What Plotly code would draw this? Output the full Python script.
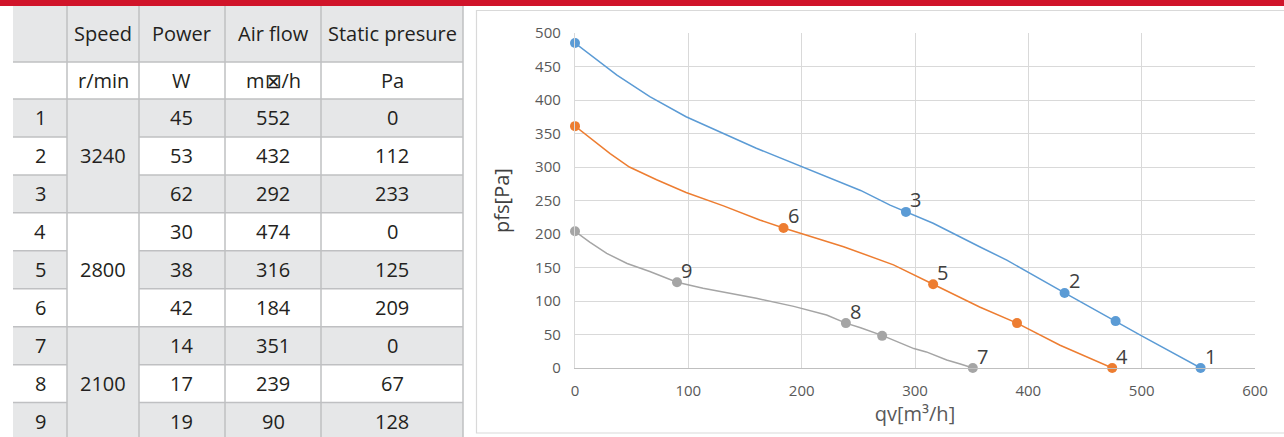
import plotly.graph_objects as go

W, H = 1284, 437

# ---------------- table data ----------------
row_no = [1, 2, 3, 4, 5, 6, 7, 8, 9]
speeds = [3240, 2800, 2100]
power = [45, 53, 62, 30, 38, 42, 14, 17, 19]
air_flow = [552, 432, 292, 474, 316, 184, 351, 239, 90]
static_p = [0, 112, 233, 0, 125, 209, 0, 67, 128]
headers = ["", "Speed", "Power", "Air flow", "Static presure"]
units = ["", "r/min", "W", "m\u22a0/h", "Pa"]

# ---------------- curve data ----------------
qv_3240 = [0, 37, 66, 98, 160, 201, 228, 252, 278, 292, 316, 357, 381, 432, 454, 477, 500, 552]
pfs_3240 = [485, 437, 405, 375, 328, 300, 281, 265, 243, 233, 216, 181, 161, 112, 91, 70, 48, 0]

qv_2800 = [0, 31, 48, 72, 98, 131, 163, 184, 237, 281, 316, 357, 390, 428, 474]
pfs_2800 = [361, 320, 300, 281, 262, 242, 221, 209, 181, 154, 125, 91, 67, 34, 0]

qv_2100 = [0, 13, 28, 46, 66, 90, 113, 160, 193, 222, 239, 252, 272, 299, 310, 328, 340, 351]
pfs_2100 = [204, 188, 171, 156, 144, 128, 119, 104, 92, 79, 67, 60, 48, 29, 24, 12, 6, 0]

# extra (unlabelled) markers on each curve
extra_qv = {3240: [0, 477], 2800: [0, 390], 2100: [0, 271]}
extra_pfs = {3240: [485, 70], 2800: [361, 67], 2100: [204, 48]}

colors = {3240: "#5b9bd5", 2800: "#ed7d31", 2100: "#a5a5a5"}
curves = {3240: (qv_3240, pfs_3240), 2800: (qv_2800, pfs_2800), 2100: (qv_2100, pfs_2100)}

FONT = "Open Sans"


def fx(x):
    return x / W


def fy(y):
    return 1 - y / H


fig = go.Figure()
annotations = []

for gi, sp in enumerate(speeds):
    qv, pf = curves[sp]
    fig.add_trace(go.Scatter(
        x=qv, y=pf, mode="lines", line=dict(color=colors[sp], width=1.5),
        hoverinfo="skip", showlegend=False))
    idx = list(range(gi * 3, gi * 3 + 3))
    mx = extra_qv[sp] + [air_flow[i] for i in idx]
    my = extra_pfs[sp] + [static_p[i] for i in idx]
    fig.add_trace(go.Scatter(
        x=mx, y=my, mode="markers",
        marker=dict(color=colors[sp], size=10), cliponaxis=False,
        name=f"{sp} r/min", showlegend=False))
    # point number labels
    for i in idx:
        annotations.append(dict(xref="x", yref="y", x=air_flow[i], y=static_p[i],
                                text=str(row_no[i]), showarrow=False,
                                xanchor="left", yanchor="middle", xshift=2, yshift=12,
                                font=dict(family=FONT, size=20, color="#404040")))

# ---------------- table drawn with shapes ----------------
col_edges = [13, 67, 139, 225, 321, 463]
y_head = (6, 62)
y_unit = (62, 99)
row_h = 37.95
row_top = [99 + k * row_h for k in range(9)]
GRAY = "#e6e7e8"
LINE = "#bfc0c2"
TXT = "#231f20"

shapes = []
# red top bar
shapes.append(dict(type="rect", xref="paper", yref="paper", x0=0, x1=1, y0=fy(6), y1=1,
                   fillcolor="#d0142a", line=dict(width=0), layer="below"))
# header fill
shapes.append(dict(type="rect", xref="paper", yref="paper", x0=fx(col_edges[0]), x1=fx(col_edges[-1]),
                   y0=fy(y_head[1]), y1=fy(y_head[0]), fillcolor=GRAY, line=dict(width=0), layer="below"))
# row fills (alternating, with merged speed column)
for k in range(9):
    if k % 2 == 0:
        for c in [0, 2, 3, 4]:
            shapes.append(dict(type="rect", xref="paper", yref="paper",
                               x0=fx(col_edges[c]), x1=fx(col_edges[c + 1]),
                               y0=fy(row_top[k] + row_h), y1=fy(row_top[k]),
                               fillcolor=GRAY, line=dict(width=0), layer="below"))
for gi in range(3):
    if gi % 2 == 0:
        shapes.append(dict(type="rect", xref="paper", yref="paper",
                           x0=fx(col_edges[1]), x1=fx(col_edges[2]),
                           y0=fy(row_top[gi * 3] + 3 * row_h), y1=fy(row_top[gi * 3]),
                           fillcolor=GRAY, line=dict(width=0), layer="below"))
# vertical lines
for xe in col_edges[1:]:
    shapes.append(dict(type="line", xref="paper", yref="paper", x0=fx(xe), x1=fx(xe),
                       y0=0, y1=fy(6), line=dict(color=LINE, width=1.5)))
# horizontal lines
for yy in [62, 99]:
    shapes.append(dict(type="line", xref="paper", yref="paper", x0=fx(col_edges[0]), x1=fx(col_edges[-1]),
                       y0=fy(yy), y1=fy(yy), line=dict(color=LINE, width=1.5)))
for k in range(1, 9):
    yy = row_top[k]
    if k % 3 == 0:
        segs = [(col_edges[0], col_edges[-1])]
    else:
        segs = [(col_edges[0], col_edges[1]), (col_edges[2], col_edges[-1])]
    for a, b in segs:
        shapes.append(dict(type="line", xref="paper", yref="paper", x0=fx(a), x1=fx(b),
                           y0=fy(yy), y1=fy(yy), line=dict(color=LINE, width=1.5)))

# chart frame
shapes.append(dict(type="rect", xref="paper", yref="paper", x0=fx(476.5), x1=fx(1290),
                   y0=fy(433), y1=fy(10.5), line=dict(color="#d9d9d9", width=1.2), layer="below"))


def cell_text(txt, c, yc):
    annotations.append(dict(xref="paper", yref="paper",
                            x=fx((col_edges[c] + col_edges[c + 1]) / 2), y=fy(yc),
                            text=txt, showarrow=False, xanchor="center", yanchor="middle",
                            font=dict(family=FONT, size=20, color=TXT)))


for c in range(5):
    cell_text(headers[c], c, (y_head[0] + y_head[1]) / 2)
    cell_text(units[c], c, (y_unit[0] + y_unit[1]) / 2)
for k in range(9):
    yc = row_top[k] + row_h / 2
    cell_text(str(row_no[k]), 0, yc)
    cell_text(str(power[k]), 2, yc)
    cell_text(str(air_flow[k]), 3, yc)
    cell_text(str(static_p[k]), 4, yc)
for gi, sp in enumerate(speeds):
    cell_text(str(sp), 1, row_top[gi * 3 + 1] + row_h / 2)

fig.update_layout(
    autosize=True,
    margin=dict(l=0, r=0, t=0, b=0, autoexpand=False),
    paper_bgcolor="white", plot_bgcolor="white",
    shapes=shapes, annotations=annotations,
    font=dict(family=FONT),
    xaxis=dict(domain=[fx(575), fx(1255)], range=[0, 600], dtick=100, tick0=0,
               showgrid=True, gridcolor="#d9d9d9", gridwidth=1.3,
               zeroline=False, showline=True, linecolor="#bfbfbf", linewidth=1.3,
               ticks="", ticklabelstandoff=9,
               tickfont=dict(family=FONT, size=15, color="#595959"),
               title=dict(text="qv[m\u00b3/h]", standoff=2,
                          font=dict(family=FONT, size=20, color="#595959"))),
    yaxis=dict(domain=[fy(368), fy(33)], range=[0, 500], dtick=50, tick0=0,
               showgrid=True, gridcolor="#d9d9d9", gridwidth=1.3,
               zeroline=False, showline=True, linecolor="#d9d9d9", linewidth=1.3,
               ticks="", ticklabelstandoff=10,
               tickfont=dict(family=FONT, size=15, color="#595959"),
               title=dict(text="pfs[Pa]", standoff=20,
                          font=dict(family=FONT, size=20, color="#404040"))),
)

post = (
    "var de=document.documentElement, b=document.body;"
    "de.style.margin='0';de.style.padding='0';de.style.overflow='hidden';"
    "b.style.margin='0';b.style.padding='0';b.style.overflow='hidden';"
    "var gd=document.getElementById('{plot_id}');"
    "gd.style.width='100vw';gd.style.height='100vh';"
    "Plotly.Plots.resize(gd);"
)

fig.write_html(
    "out.html",
    default_width="100vw",
    default_height="100vh",
    config={"displayModeBar": False, "responsive": True},
    post_script=post,
)
